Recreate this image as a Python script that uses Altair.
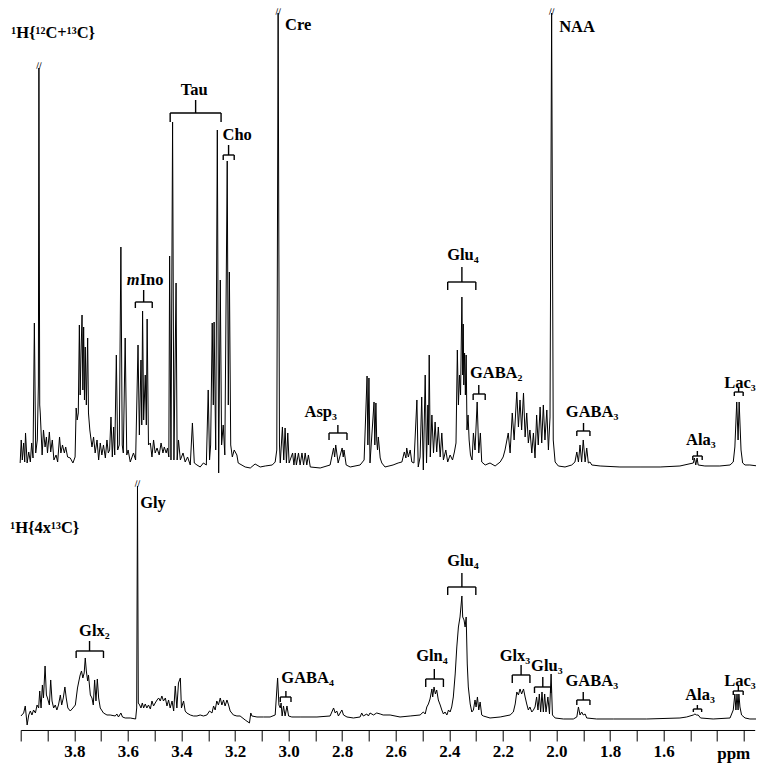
import altair as alt
import pandas as pd

# ---------------- spectrum 1: 1H{12C+13C} (ppm, intensity) ----------------
top_ppm = [4.002, 3.998, 3.994, 3.989, 3.985, 3.982, 3.976, 3.970, 3.964, 3.959,
           3.954, 3.949, 3.944, 3.938, 3.934, 3.932, 3.929, 3.927, 3.920, 3.915,
           3.909, 3.904, 3.900, 3.893, 3.888, 3.882, 3.876, 3.868, 3.862, 3.855,
           3.850, 3.844, 3.837, 3.832, 3.825, 3.815, 3.805, 3.797, 3.793, 3.789,
           3.785, 3.781, 3.778, 3.775, 3.771, 3.768, 3.765, 3.762, 3.759, 3.755,
           3.750, 3.747, 3.742, 3.734, 3.728, 3.722, 3.715, 3.709, 3.703, 3.697,
           3.691, 3.684, 3.678, 3.673, 3.668, 3.663, 3.658, 3.653, 3.649, 3.643,
           3.638, 3.632, 3.626, 3.621, 3.617, 3.610, 3.604, 3.599, 3.591, 3.579,
           3.571, 3.562, 3.557, 3.551, 3.548, 3.545, 3.541, 3.535, 3.531, 3.528,
           3.523, 3.516, 3.510, 3.504, 3.498, 3.491, 3.483, 3.476, 3.469, 3.464,
           3.457, 3.452, 3.447, 3.444, 3.439, 3.433, 3.428, 3.420, 3.416, 3.411,
           3.404, 3.394, 3.386, 3.377, 3.367, 3.359, 3.352, 3.342, 3.330, 3.318,
           3.307, 3.300, 3.295, 3.291, 3.285, 3.281, 3.278, 3.272, 3.266, 3.261,
           3.255, 3.250, 3.244, 3.238, 3.229, 3.225, 3.221, 3.216, 3.210, 3.203,
           3.193, 3.188, 3.162, 3.143, 3.125, 3.106, 3.087, 3.061, 3.050, 3.044,
           3.039, 3.034, 3.031, 3.023, 3.018, 3.013, 3.008, 3.003, 2.998, 2.985,
           2.980, 2.975, 2.971, 2.963, 2.957, 2.950, 2.944, 2.938, 2.932, 2.926,
           2.919, 2.882, 2.845, 2.832, 2.828, 2.824, 2.815, 2.800, 2.796, 2.793,
           2.785, 2.770, 2.733, 2.718, 2.707, 2.704, 2.700, 2.696, 2.681, 2.678,
           2.674, 2.671, 2.668, 2.665, 2.658, 2.652, 2.640, 2.610, 2.591, 2.577,
           2.568, 2.562, 2.559, 2.553, 2.546, 2.540, 2.532, 2.521, 2.516, 2.509,
           2.503, 2.497, 2.490, 2.485, 2.480, 2.478, 2.475, 2.471, 2.465, 2.459,
           2.453, 2.447, 2.441, 2.434, 2.428, 2.422, 2.413, 2.406, 2.397, 2.388,
           2.381, 2.375, 2.370, 2.366, 2.362, 2.358, 2.353, 2.350, 2.348, 2.346,
           2.343, 2.340, 2.337, 2.334, 2.330, 2.326, 2.321, 2.315, 2.310, 2.304,
           2.296, 2.290, 2.284, 2.279, 2.266, 2.248, 2.229, 2.210, 2.199, 2.192,
           2.180, 2.173, 2.165, 2.158, 2.148, 2.142, 2.136, 2.130, 2.123, 2.117,
           2.111, 2.105, 2.099, 2.092, 2.086, 2.080, 2.074, 2.068, 2.061, 2.055,
           2.049, 2.043, 2.036, 2.030, 2.024, 2.018, 2.012, 2.005, 1.993, 1.968,
           1.943, 1.931, 1.924, 1.918, 1.912, 1.906, 1.900, 1.893, 1.887, 1.881,
           1.875, 1.868, 1.837, 1.763, 1.688, 1.613, 1.539, 1.489, 1.485, 1.480,
           1.475, 1.471, 1.446, 1.390, 1.352, 1.340, 1.334, 1.327, 1.322, 1.318,
           1.311, 1.305, 1.296, 1.278, 1.248]
top_int = [2, 25, 5, 22, 3, 32, 2, 13, 3, 22,
           7, 142, 12, 25, 80, 397, 60, 52, 10, 35,
           18, 28, 12, 33, 13, 25, 5, 10, 3, 28,
           12, 20, 12, 18, 8, 7, 2, 8, 57, 45,
           52, 140, 70, 110, 150, 75, 138, 65, 118, 60,
           127, 52, 35, 18, 28, 12, 25, 5, 22, 10,
           20, 7, 25, 12, 15, 48, 8, 38, 10, 110,
           15, 20, 218, 20, 12, 127, 10, 15, 3, 12,
           5, 120, 30, 105, 40, 154, 45, 90, 40, 146,
           20, 22, 8, 25, 12, 17, 10, 22, 12, 18,
           12, 17, 8, 209, 5, 343, 5, 182, 5, 25,
           5, 12, 3, 8, 0, 42, 2, 0, -2, 2,
           0, 75, 5, 20, 142, 60, 143, 15, 335, -8,
           185, 20, 40, 10, 304, 60, 193, 20, 8, 15,
           10, 2, -2, -3, 1, -2, -1, 0, 3, 15,
           452, 20, 2, 38, 5, 37, 2, 32, 2, 12,
           0, 12, 0, 12, 0, 12, 0, 12, 0, 10,
           -2, -3, 0, 17, 8, 20, 2, 17, 8, 15,
           0, -2, 0, 5, 89, 20, 87, 2, 63, 20,
           62, 25, 15, 28, 7, 2, -2, 0, 2, 3,
           13, 7, 17, 8, 15, 3, 2, 65, -2, 8,
           68, -5, 90, 2, 60, 20, 110, 8, 50, 12,
           43, 13, 38, 8, 32, 5, 15, 3, 10, 5,
           13, 22, 115, 60, 90, 70, 168, 90, 141, 80,
           112, 70, 110, 35, 50, 25, 10, 5, 32, 15,
           63, 12, 32, 3, 0, 2, -1, 3, 8, 15,
           32, 12, 52, 25, 73, 38, 65, 35, 72, 28,
           52, 22, 35, 12, 32, 7, 50, 20, 58, 22,
           60, 25, 55, 15, 48, 452, 25, 3, -1, -2,
           0, 3, 13, 3, 20, 3, 25, 3, 17, 2,
           3, 0, -1, -2, -2, -2, -1, 2, 7, 0,
           7, 0, -1, -1, 0, 3, 18, 63, 25, 63,
           15, 2, 0, 0, -1]

# ---------------- spectrum 2: 1H{4x13C} (ppm, intensity) ----------------
bot_ppm = [3.999, 3.989, 3.983, 3.976, 3.970, 3.964, 3.958, 3.952, 3.945, 3.939,
           3.933, 3.929, 3.924, 3.919, 3.915, 3.909, 3.904, 3.900, 3.893, 3.888,
           3.883, 3.877, 3.871, 3.865, 3.859, 3.852, 3.847, 3.841, 3.835, 3.830,
           3.824, 3.815, 3.805, 3.796, 3.788, 3.782, 3.778, 3.773, 3.768, 3.763,
           3.759, 3.755, 3.750, 3.747, 3.740, 3.734, 3.729, 3.724, 3.719, 3.714,
           3.709, 3.703, 3.691, 3.678, 3.666, 3.647, 3.641, 3.635, 3.626, 3.620,
           3.610, 3.591, 3.571, 3.567, 3.564, 3.561, 3.556, 3.551, 3.546, 3.541,
           3.535, 3.529, 3.523, 3.516, 3.510, 3.504, 3.498, 3.491, 3.485, 3.479,
           3.473, 3.467, 3.460, 3.454, 3.448, 3.442, 3.435, 3.429, 3.423, 3.417,
           3.411, 3.404, 3.400, 3.392, 3.386, 3.380, 3.367, 3.355, 3.342, 3.330,
           3.318, 3.305, 3.295, 3.286, 3.280, 3.274, 3.268, 3.262, 3.255, 3.249,
           3.243, 3.237, 3.230, 3.224, 3.218, 3.206, 3.193, 3.181, 3.162, 3.146,
           3.141, 3.137, 3.118, 3.094, 3.069, 3.050, 3.041, 3.036, 3.031, 3.028,
           3.024, 3.019, 3.013, 3.006, 3.000, 2.988, 2.957, 2.894, 2.845, 2.832,
           2.826, 2.820, 2.814, 2.801, 2.795, 2.782, 2.758, 2.733, 2.727, 2.721,
           2.708, 2.702, 2.696, 2.683, 2.671, 2.658, 2.647, 2.621, 2.584, 2.546,
           2.509, 2.497, 2.490, 2.484, 2.478, 2.472, 2.465, 2.462, 2.457, 2.452,
           2.447, 2.441, 2.434, 2.428, 2.422, 2.416, 2.409, 2.403, 2.397, 2.391,
           2.385, 2.378, 2.372, 2.366, 2.360, 2.353, 2.350, 2.345, 2.341, 2.337,
           2.333, 2.329, 2.322, 2.316, 2.310, 2.304, 2.300, 2.295, 2.290, 2.285,
           2.279, 2.273, 2.248, 2.210, 2.173, 2.161, 2.154, 2.148, 2.142, 2.136,
           2.130, 2.123, 2.117, 2.111, 2.105, 2.099, 2.092, 2.086, 2.080, 2.074,
           2.069, 2.064, 2.059, 2.054, 2.049, 2.044, 2.039, 2.032, 2.026, 2.020,
           2.015, 2.005, 1.974, 1.937, 1.924, 1.918, 1.912, 1.906, 1.900, 1.893,
           1.887, 1.850, 1.788, 1.663, 1.539, 1.514, 1.489, 1.483, 1.477, 1.471,
           1.462, 1.415, 1.352, 1.340, 1.334, 1.330, 1.326, 1.322, 1.319, 1.315,
           1.309, 1.296, 1.278, 1.244]
bot_int = [2, 5, 12, -7, 3, 7, 3, 8, 5, 13,
           10, 27, 10, 33, 20, 52, 23, 20, 13, 38,
           17, 10, 13, 8, 13, 23, 13, 20, 31, 20,
           10, 7, 10, 13, 30, 38, 43, 47, 40, 45,
           60, 47, 37, 43, 23, 20, 13, 38, 17, 39,
           20, 10, 5, 3, 3, 2, 4, 1, 5, 1,
           0, 0, -1, 10, 232, 15, 13, 10, 15, 10,
           14, 10, 13, 9, 17, 12, 15, 18, 20, 17,
           22, 17, 20, 12, 18, 10, 17, 7, 32, 10,
           35, 40, 10, 17, 7, 5, 3, 2, 2, 3,
           2, 3, 7, 5, 12, 8, 17, 13, 20, 13,
           18, 12, 18, 13, 7, 3, 2, 2, -2, -5,
           5, 2, 1, 1, 1, 3, 40, 13, 10, 15,
           2, 12, 2, 12, 2, 1, 1, 1, 2, 10,
           5, 7, 2, 8, 3, 1, 0, 1, 5, 2,
           4, 2, 5, 3, 5, 4, 3, 3, 1, 2,
           3, 6, 4, 11, 14, 19, 29, 21, 31, 24,
           28, 18, 13, 8, 4, 6, 3, 8, 6, 11,
           21, 44, 71, 91, 101, 122, 101, 98, 91, 101,
           54, 31, 14, 6, 8, 18, 11, 21, 8, 16,
           3, 2, 0, 1, 3, 6, 14, 26, 23, 29,
           24, 29, 21, 14, 8, 11, 6, 8, 11, 21,
           8, 24, 6, 26, 6, 24, 6, 21, 4, 44,
           3, 0, -1, -1, 1, 11, 3, 6, 3, 4,
           0, -1, -1, -1, 0, 1, 3, 4, 3, 3,
           0, -1, 0, 8, 24, 8, 24, 8, 24, 11,
           3, 0, -1, -1]

# ---------------- labels ----------------
top_lab_text = ["¹H{¹²C+¹³C}", "Cre", "NAA", "Tau", "Cho", "Glu₄", "GABA₂",
                "Asp₃", "GABA₃", "Ala₃", "Lac₃", "Ino"]
top_lab_ppm = [4.035, 3.013, 1.990, 3.352, 3.192, 2.349, 2.225,
               2.880, 1.867, 1.461, 1.315, 3.556]
top_lab_y = [432, 440, 438, 375, 330, 210, 92, 53, 53, 25, 82, 185]
top_lab_align = ["left", "left", "left", "center", "center", "center", "center",
                 "center", "center", "center", "center", "left"]
top_ital_text = ["m"]
top_ital_ppm = [3.556]
top_ital_y = [185]

bot_lab_text = ["¹H{4x¹³C}", "Gly", "Glx₂", "GABA₄", "Gln₄", "Glu₄", "Glx₃",
                "Glu₃", "GABA₃", "Ala₃", "Lac₃"]
bot_lab_ppm = [4.039, 3.554, 3.725, 2.929, 2.465, 2.349, 2.155,
               2.036, 1.868, 1.464, 1.315]
bot_lab_y = [190, 215, 87, 40, 62, 157, 62, 52, 37, 23, 37]
bot_lab_align = ["left", "left", "center", "center", "center", "center",
                 "center", "center", "center", "center", "center"]

# ---------------- brackets: x1, x2, centre, bar level, end level, stem top ----
top_br_x1 = [3.442, 3.244, 3.572, 2.406, 2.311, 2.849, 1.924, 1.491, 1.336]
top_br_x2 = [3.252, 3.203, 3.509, 2.301, 2.266, 2.782, 1.875, 1.456, 1.303]
top_br_xc = [3.347, 3.224, 3.541, 2.353, 2.290, 2.816, 1.899, 1.474, 1.320]
top_br_bar = [352, 310, 163, 183, 71, 32, 34, 9, 73]
top_br_end = [343, 305, 157, 175, 65, 25, 29, 5, 69]
top_br_top = [365, 320, 175, 198, 80, 40, 42, 14, 78]

bot_br_x1 = [3.793, 3.031, 2.488, 2.406, 2.165, 2.082, 1.924, 1.489, 1.340]
bot_br_x2 = [3.691, 2.991, 2.422, 2.301, 2.099, 2.021, 1.875, 1.458, 1.303]
bot_br_xc = [3.743, 3.010, 2.456, 2.353, 2.132, 2.051, 1.900, 1.474, 1.321]
bot_br_bar = [67, 21, 39, 131, 43, 31, 18, 9, 27]
bot_br_end = [60, 16, 31, 123, 35, 25, 13, 6, 23]
bot_br_top = [77, 27, 49, 145, 53, 41, 26, 13, 33]

# truncated peaks (break marks)
top_break_ppm = [3.932, 3.039, 2.018]
top_break_y = [399, 453, 453]
bot_break_ppm = [3.564]
bot_break_y = [234]

tick_values = [4.0, 3.9, 3.8, 3.7, 3.6, 3.5, 3.4, 3.3, 3.2, 3.1, 3.0, 2.9, 2.8,
               2.7, 2.6, 2.5, 2.4, 2.3, 2.2, 2.1, 2.0, 1.9, 1.8, 1.7, 1.6, 1.5,
               1.4, 1.3]
unit_text = ["ppm"]
unit_ppm = [1.40]
unit_y = [-36]

FONT = "Liberation Serif"
TOP_DOM = [-265, 457]
BOT_DOM = [-12, 710]

xscale = alt.Scale(domain=[1.26, 4.0], reverse=True, nice=False, zero=False)
xaxis = alt.Axis(
    values=tick_values, title=None, grid=False, orient="bottom",
    labelExpr="(abs(datum.value*10 - round(datum.value*5)*2) < 0.01 && datum.value < 3.85 && datum.value > 1.55) ? format(datum.value, '.1f') : ''",
    domainColor="black", domainWidth=1, tickColor="black", tickWidth=1,
    tickSize=11, labelFont=FONT, labelFontWeight="bold", labelFontSize=17,
    labelColor="black", labelPadding=3, labelOverlap=False, labelFlush=False)


def yenc(field, dom):
    return alt.Y(field, scale=alt.Scale(domain=dom, nice=False, zero=False), axis=None)


def xenc(field):
    return alt.X(field, scale=xscale, axis=xaxis)


def spectrum(ppm, inten, dom):
    df = pd.DataFrame({"ppm": ppm, "i": inten, "o": list(range(len(ppm)))})
    return alt.Chart(df).mark_line(color="black", strokeWidth=1.0).encode(
        x=xenc("ppm:Q"), y=yenc("i:Q", dom), order="o:Q")


def brackets(x1, x2, xc, bar, end, top, dom):
    rows = []
    for a, b, c, yb, ye, yt in zip(x1, x2, xc, bar, end, top):
        rows.append({"xa": a, "xb": b, "ya": yb, "yb": yb})
        rows.append({"xa": a, "xb": a, "ya": yb, "yb": ye})
        rows.append({"xa": b, "xb": b, "ya": yb, "yb": ye})
        rows.append({"xa": c, "xb": c, "ya": yb, "yb": yt})
    df = pd.DataFrame(rows)
    return alt.Chart(df).mark_rule(color="black", strokeWidth=1.4).encode(
        x=xenc("xa:Q"), x2="xb:Q", y=yenc("ya:Q", dom), y2="yb:Q")


def labels(text, ppm, yv, align, dom, style="normal", size=16.5):
    df = pd.DataFrame({"t": text, "p": ppm, "y": yv, "a": align})
    layers = []
    for al in ["left", "center", "right"]:
        sub = df[df["a"] == al]
        if len(sub) == 0:
            continue
        layers.append(alt.Chart(sub).mark_text(
            font=FONT, fontWeight="bold", fontStyle=style, fontSize=size,
            color="black", align=al, baseline="middle").encode(
            x=xenc("p:Q"), y=yenc("y:Q", dom), text="t:N"))
    return layers


def breaks(ppm, yv, dom):
    df = pd.DataFrame({"p": ppm, "y": yv, "t": ["//"] * len(ppm)})
    return alt.Chart(df).mark_text(font="DejaVu Sans", fontSize=8, color="black",
                                   baseline="middle", align="center").encode(
        x=xenc("p:Q"), y=yenc("y:Q", dom), text="t:N")


layers = [
    spectrum(top_ppm, top_int, TOP_DOM),
    spectrum(bot_ppm, bot_int, BOT_DOM),
    brackets(top_br_x1, top_br_x2, top_br_xc, top_br_bar, top_br_end, top_br_top, TOP_DOM),
    brackets(bot_br_x1, bot_br_x2, bot_br_xc, bot_br_bar, bot_br_end, bot_br_top, BOT_DOM),
    breaks(top_break_ppm, top_break_y, TOP_DOM),
    breaks(bot_break_ppm, bot_break_y, BOT_DOM),
]
layers += labels(top_lab_text, top_lab_ppm, top_lab_y, top_lab_align, TOP_DOM)
layers += labels(top_ital_text, top_ital_ppm, top_ital_y, ["right"], TOP_DOM, style="italic")
layers += labels(bot_lab_text, bot_lab_ppm, bot_lab_y, bot_lab_align, BOT_DOM)
layers += labels(unit_text, unit_ppm, unit_y, ["left"], BOT_DOM, size=17)

chart = alt.layer(*layers).resolve_scale(y="independent").properties(
    width=734, height=722,
    autosize=alt.AutoSizeParams(type="none"),
    padding={"left": 12.7, "top": 0, "right": 1, "bottom": 33},
    background="white",
).configure_view(stroke=None)

chart.save("out.html", embed_options={"renderer": "svg", "actions": False})
